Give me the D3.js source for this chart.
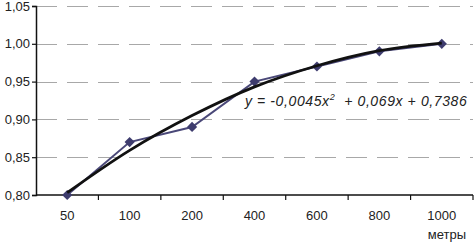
<!DOCTYPE html>
<html>
<head>
<meta charset="utf-8">
<script src="https://cdn.jsdelivr.net/npm/d3@7"></script>
<style>
  body { margin: 0; background: #fff; }
  text { font-family: "Liberation Sans", Arial, sans-serif; fill: #222; }
</style>
</head>
<body>
<svg width="474" height="244"></svg>
<script>
// Categories (metres) and measured values
var categories = ['50', '100', '200', '400', '600', '800', '1000'];
var values = [0.80, 0.87, 0.89, 0.95, 0.97, 0.99, 1.00];
// Trendline values at each category
var trend = [0.803, 0.859, 0.905, 0.943, 0.971, 0.991, 1.001];
var yTicks = [0.80, 0.85, 0.90, 0.95, 1.00, 1.05];

var svg = d3.select('svg');
var padding = {t: 6, r: 1, b: 49, l: 36};
var chartWidth = +svg.attr('width') - padding.l - padding.r;
var chartHeight = +svg.attr('height') - padding.t - padding.b;

var chartG = svg.append('g')
    .attr('transform', 'translate(' + [padding.l, padding.t] + ')');

var xScale = d3.scaleBand()
    .domain(categories)
    .range([0, chartWidth]);

var yScale = d3.scaleLinear()
    .domain([0.80, 1.05])
    .range([chartHeight, 0]);

var fmt = function(d) { return d3.format('.2f')(d).replace('.', ','); };

// dashed gridlines
chartG.selectAll('.grid')
    .data(yTicks.slice(1))
    .enter()
    .append('line')
    .attr('class', 'grid')
    .attr('x1', 0)
    .attr('x2', chartWidth)
    .attr('y1', function(d) { return Math.round(yScale(d)) + 0.5; })
    .attr('y2', function(d) { return Math.round(yScale(d)) + 0.5; })
    .attr('stroke', '#a8a8a8')
    .attr('stroke-width', 1.2)
    .attr('stroke-dasharray', '21,10');

// y axis
var yAxis = d3.axisLeft(yScale)
    .tickValues(yTicks)
    .tickFormat(fmt)
    .tickSize(4)
    .tickPadding(2);

var yG = chartG.append('g')
    .call(yAxis);
yG.select('.domain').attr('stroke', '#111').attr('stroke-width', 1.5);
yG.selectAll('.tick line').attr('stroke', '#111').attr('stroke-width', 1.2);
yG.selectAll('.tick text')
    .style('font-size', '13px')
    .style('font-family', '"Liberation Sans", Arial, sans-serif')
    .attr('fill', '#222');

// x axis: ticks at band boundaries
var xG = chartG.append('g')
    .attr('transform', 'translate(0,' + chartHeight + ')');
xG.append('line')
    .attr('x1', 0)
    .attr('x2', chartWidth)
    .attr('stroke', '#111')
    .attr('stroke-width', 1.5);
xG.selectAll('.xtick')
    .data(categories)
    .enter()
    .append('line')
    .attr('class', 'xtick')
    .attr('x1', function(d) { return xScale(d) + xScale.bandwidth(); })
    .attr('x2', function(d) { return xScale(d) + xScale.bandwidth(); })
    .attr('y1', 0)
    .attr('y2', 5)
    .attr('stroke', '#111')
    .attr('stroke-width', 1.2);
xG.selectAll('.xlabel')
    .data(categories)
    .enter()
    .append('text')
    .attr('class', 'xlabel')
    .attr('x', function(d) { return xScale(d) + xScale.bandwidth() / 2; })
    .attr('y', 25)
    .style('text-anchor', 'middle')
    .style('font-size', '13px')
    .text(function(d) { return d; });

svg.append('text')
    .attr('x', 466)
    .attr('y', 239)
    .style('text-anchor', 'end')
    .style('font-size', '13px')
    .text('метры');

var cx = function(d, i) { return xScale(categories[i]) + xScale.bandwidth() / 2; };

// data line
var line = d3.line()
    .x(cx)
    .y(function(d) { return yScale(d); });

chartG.append('path')
    .datum(values)
    .attr('d', line)
    .attr('fill', 'none')
    .attr('stroke', '#4a4878')
    .attr('stroke-width', 2);

chartG.selectAll('.marker')
    .data(values)
    .enter()
    .append('path')
    .attr('class', 'marker')
    .attr('d', d3.symbol().type(d3.symbolDiamond2).size(66))
    .attr('transform', function(d, i) { return 'translate(' + cx(d, i) + ',' + yScale(d) + ')'; })
    .attr('fill', '#3e3c6e');

// polynomial trendline
var trendLine = d3.line()
    .x(cx)
    .y(function(d) { return yScale(d); })
    .curve(d3.curveCatmullRom);

chartG.append('path')
    .datum(trend)
    .attr('d', trendLine)
    .attr('fill', 'none')
    .attr('stroke', '#111')
    .attr('stroke-width', 2.8);

// equation label
var eq = svg.append('text')
    .attr('x', 245)
    .attr('y', 106)
    .style('font-size', '14px')
    .style('letter-spacing', '0.6px')
    .style('font-style', 'italic');
eq.append('tspan').text('y = -0,0045x');
eq.append('tspan').attr('dy', -6).style('font-size', '9px').text('2');
eq.append('tspan').attr('dy', 6).text('\u00a0 + 0,069x + 0,7386');
</script>
</body>
</html>
